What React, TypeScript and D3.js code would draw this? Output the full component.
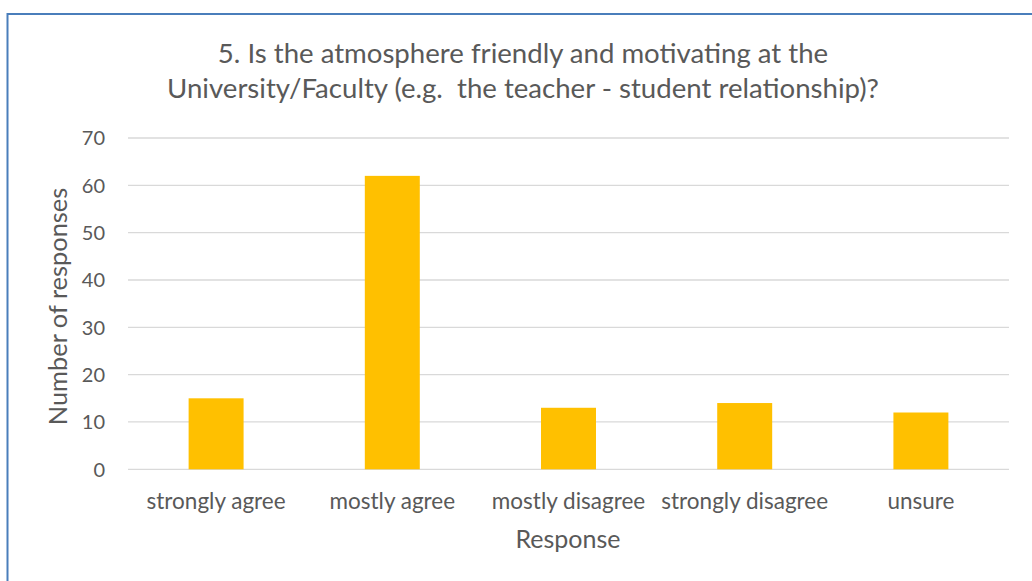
import React from "react";
import * as d3 from "d3";

const titleLines = [
  "5. Is the atmosphere friendly and motivating at the",
  "University/Faculty (e.g.  the teacher - student relationship)?",
];
const categories = ["strongly agree", "mostly agree", "mostly disagree", "strongly disagree", "unsure"];
const values = [15, 62, 13, 14, 12];
const yTicks = [0, 10, 20, 30, 40, 50, 60, 70];
const yLabel = "Number of responses";
const xLabel = "Response";

const W = 1032;
const H = 581;
const FONT = "Lato, 'Open Sans', sans-serif";
const TEXT = "#595959";

export default function App() {
  const left = 128;
  const right = 1009;
  const top = 138;
  const bottom = 469.3;

  const x = d3.scaleBand<string>().domain(categories).range([left, right]).padding(0);
  const y = d3.scaleLinear().domain([0, 70]).range([bottom, top]);
  const barW = x.bandwidth() * 0.312;

  return (
    <svg width={W} height={H} style={{ position: "absolute", left: 0, top: 0 }}>
      <rect x={0} y={0} width={W} height={H} fill="#fff" />
      <rect x={7.5} y={14} width={1100} height={700} fill="none" stroke="#4a7ebb" strokeWidth={2} />
      {titleLines.map((t, i) => (
        <text key={i} x={523} y={62.7 + i * 35.6} textAnchor="middle" fontFamily={FONT} fontSize={27.6} fill={TEXT} style={{ whiteSpace: "pre" }}>
          {t}
        </text>
      ))}
      {yTicks.map((t) => (
        <g key={t}>
          <line x1={left} x2={right} y1={y(t)} y2={y(t)} stroke="#d9d9d9" strokeWidth={1.3} />
          <text x={105} y={y(t)} dy="0.36em" textAnchor="end" fontFamily={FONT} fontSize={20} fill={TEXT}>
            {t}
          </text>
        </g>
      ))}
      {categories.map((c, i) => {
        const cx = (x(c) as number) + x.bandwidth() / 2;
        return (
          <g key={c}>
            <rect x={cx - barW / 2} y={y(values[i])} width={barW} height={y(0) - y(values[i])} fill="#ffc000" />
            <text x={cx} y={509} textAnchor="middle" fontFamily={FONT} fontSize={22.5} fill={TEXT}>
              {c}
            </text>
          </g>
        );
      })}
      <text x={568} y={548} textAnchor="middle" fontFamily={FONT} fontSize={25} fill={TEXT}>
        {xLabel}
      </text>
      <text
        transform={`translate(66.5, 306.5) rotate(-90)`}
        textAnchor="middle"
        fontFamily={FONT}
        fontSize={25.4}
        fill={TEXT}
      >
        {yLabel}
      </text>
    </svg>
  );
}
